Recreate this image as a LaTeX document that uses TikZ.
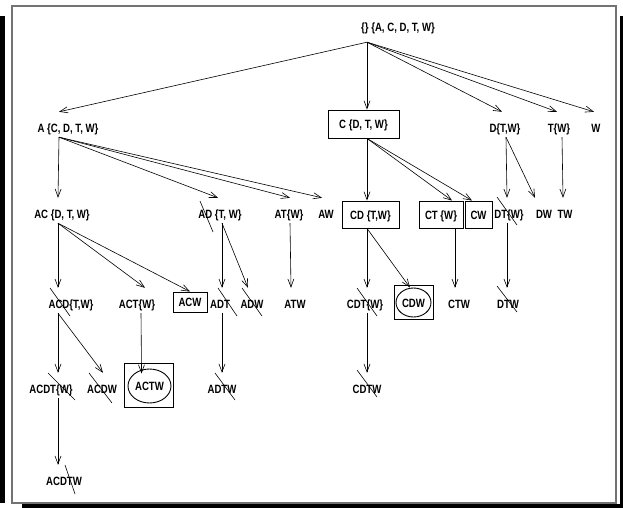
\documentclass[tikz,border=0pt]{standalone}
\usepackage{fontspec}
\setmainfont{Liberation Sans}[FakeStretch=0.8]
\usetikzlibrary{arrows.meta,shapes.geometric}

\begin{document}
\begin{tikzpicture}[x=1pt,y=-1pt,
  font=\fontsize{12}{14}\selectfont\bfseries,
  lbl/.style={anchor=base, inner sep=0pt, text height=20pt, text depth=5pt},
  setbox/.style={draw, line width=0.9pt, inner sep=0pt, text height=9pt, text depth=0pt, minimum height=27pt},
  hit/.style={ellipse, draw, line width=0.9pt, inner sep=0pt, text height=9pt, text depth=0pt},
  link/.style={-{Straight Barb[length=8pt,width=6pt]}, line width=0.6pt},
  strike/.style={line width=0.6pt}]
  \useasboundingbox (0,0) rectangle (623,508);

  %% frame with shadow
  \fill[black] (0,16) rectangle (5,503);
  \fill[black] (22,504) rectangle (623,508);
  \fill[black] (620,16) rectangle (623,508);
  \draw[black!55, line width=1.2pt] (12,6) rectangle (616,503);

  %% itemsets
  \node[lbl, text depth=10pt] (root) at (398,32) {\{\} \{A, C, D, T, W\}};
  % level 1
  \node[lbl] (A) at (68,132) {A \{C, D, T, W\}};
  \node[setbox, minimum width=71pt, minimum height=28pt] (C) at (363.5,124) {C \{D, T, W\}};
  \node[lbl] (D) at (505,132) {D\{T,W\}};
  \node[lbl] (T) at (559,132) {T\{W\}};
  \node[lbl] (W) at (596,132) {W};
  % level 2
  \node[lbl] (AC) at (62,218) {AC \{D, T, W\}};
  \node[lbl] (AD) at (220,218) {AD \{T, W\}};
  \node[lbl] (AT) at (289,218) {AT\{W\}};
  \node[lbl] (AW) at (326,218) {AW};
  \node[setbox, minimum width=57pt] (CD) at (370.5,214.5) {CD \{T,W\}};
  \node[setbox, minimum width=44pt] (CT) at (441,214.5) {CT \{W\}};
  \node[setbox, minimum width=27pt] (CW) at (478.5,214.5) {CW};
  \node[lbl] (DT) at (509,218) {DT\{W\}};
  \node[lbl] (DW) at (544,218) {DW};
  \node[lbl] (TW) at (565,218) {TW};
  % level 3
  \node[lbl] (ACD) at (71,308) {ACD\{T,W\}};
  \node[lbl] (ACT) at (137,308) {ACT\{W\}};
  \node[setbox, minimum width=34pt, minimum height=20pt] (ACW) at (190,302) {ACW};
  \node[lbl] (ADT) at (220,308) {ADT};
  \node[lbl] (ADW) at (252,308) {ADW};
  \node[lbl] (ATW) at (295,308) {ATW};
  \node[lbl] (CDT) at (365,308) {CDT\{W\}};
  \node[setbox, minimum width=39pt, minimum height=34pt] (CDWbox) at (413.5,302) {};
  \node[hit, minimum width=35pt, minimum height=29pt] (CDW) at (413.5,302.5) {CDW};
  \node[lbl] (CTW) at (459,308) {CTW};
  \node[lbl] (DTW) at (508,308) {DTW};
  % level 4
  \node[lbl] (ACDT) at (51,393) {ACDT\{W\}};
  \node[lbl] (ACDW) at (102,393) {ACDW};
  \node[setbox, minimum width=49pt, minimum height=44pt] (ACTWbox) at (148.5,385) {};
  \node[hit, minimum width=43pt, minimum height=34pt] (ACTW) at (149.5,386) {ACTW};
  \node[lbl] (ADTW) at (222,393) {ADTW};
  \node[lbl] (CDTW) at (367,393) {CDTW};
  % level 5
  \node[lbl] (ACDTW) at (64,485) {ACDTW};

  %% tree edges
  \draw[link] ([xshift=-31pt]root.south) -- ([xshift=-9pt]A.north);
  \draw[link] ([xshift=-31pt]root.south) -- ([xshift=3.5pt]C.north);
  \draw[link] ([xshift=-31pt]root.south) -- ([xshift=-3pt]D.north);
  \draw[link] ([xshift=-31pt]root.south) -- ([xshift=-2pt]T.north);
  \draw[link] ([xshift=-31pt]root.south) -- ([xshift=-2pt]W.north);
  \draw[link] ([xshift=-9pt]A.south) -- ([xshift=-4pt]AC.north);
  \draw[link] ([xshift=-9pt]A.south) -- ([xshift=-2pt]AD.north);
  \draw[link] ([xshift=-9pt]A.south) -- ([xshift=1pt]AT.north);
  \draw[link] ([xshift=-9pt]A.south) -- ([xshift=-4pt]AW.north);
  \draw[link] ([xshift=3.5pt]C.south) -- ([xshift=-3.5pt]CD.north);
  \draw[link] ([xshift=3.5pt]C.south) -- ([xshift=11pt]CT.north);
  \draw[link] ([xshift=3.5pt]C.south) -- ([xshift=-6.5pt]CW.north);
  \draw[link] ([xshift=1pt]D.south) -- ([xshift=-2pt]DT.north);
  \draw[link] ([xshift=1pt]D.south) -- ([xshift=-9pt]DW.north);
  \draw[link] ([xshift=3pt]T.south) -- ([xshift=-2pt]TW.north);
  % level 2 -> 3
  \draw[link] ([xshift=-4pt]AC.south) -- ([xshift=-13pt]ACD.north);
  \draw[link] ([xshift=-4pt]AC.south) -- ([xshift=8pt]ACT.north);
  \draw[link] ([xshift=-4pt]AC.south) -- (ACW.north);
  \draw[link] ([xshift=2pt]AD.south) -- ([xshift=2pt]ADT.north);
  \draw[link] ([xshift=2pt]AD.south) -- ([xshift=-4pt]ADW.north);
  \draw[link] ([xshift=1pt]AT.south) -- ([xshift=-4pt]ATW.north);
  \draw[link] ([xshift=-3.5pt]CD.south) -- ([xshift=2pt]CDT.north);
  \draw[link] ([xshift=-3.5pt]CD.south) -- ([xshift=-3.5pt]CDW.north);
  \draw[link] ([xshift=14pt]CT.south) -- ([xshift=-4pt]CTW.north);
  \draw[link] ([xshift=-2pt]DT.south) -- ([xshift=-1pt]DTW.north);
  % level 3 -> 4
  \draw[link] ([xshift=-13pt]ACD.south) -- ([xshift=7pt]ACDT.north);
  \draw[link] ([xshift=-13pt]ACD.south) -- ([xshift=1pt]ACDW.north);
  \draw[link, shorten >=-5pt] ([xshift=4pt]ACT.south) -- ([xshift=-8pt]ACTW.north);
  \draw[link] ([xshift=2pt]ADT.south) -- (ADTW.north);
  \draw[link] ([xshift=2pt]CDT.south) -- (CDTW.north);
  % level 4 -> 5
  \draw[link] ([xshift=7pt]ACDT.south) -- ([xshift=-6pt]ACDTW.north);

  %% pruned itemsets
  \draw[strike] ([shift={(-20,-17)}]AD.base) -- ([shift={(-7,14)}]AD.base);
  \draw[strike] ([shift={(-12,-21)}]DT.base) -- ([shift={(8,7)}]DT.base);
  \draw[strike] ([shift={(-21,-20)}]ACD.base) -- ([shift={(-1,8)}]ACD.base);
  \draw[strike] ([shift={(-2,-20)}]ADT.base) -- ([shift={(17,8)}]ADT.base);
  \draw[strike] ([shift={(-10,-20)}]ADW.base) -- ([shift={(10,8)}]ADW.base);
  \draw[strike] ([shift={(-8,-20)}]CDT.base) -- ([shift={(12,8)}]CDT.base);
  \draw[strike] ([shift={(-11,-22)}]DTW.base) -- ([shift={(9,4)}]DTW.base);
  \draw[strike] ([shift={(-3,-20)}]ACDT.base) -- ([shift={(24,7)}]ACDT.base);
  \draw[strike] ([shift={(-13,-20)}]ACDW.base) -- ([shift={(10,10)}]ACDW.base);
  \draw[strike] ([shift={(-7,-20)}]ADTW.base) -- ([shift={(13,7)}]ADTW.base);
  \draw[strike] ([shift={(-10,-23)}]CDTW.base) -- ([shift={(10,4)}]CDTW.base);
  \draw[strike] ([shift={(1,-20)}]ACDTW.base) -- ([shift={(11,9)}]ACDTW.base);
\end{tikzpicture}
\end{document}
